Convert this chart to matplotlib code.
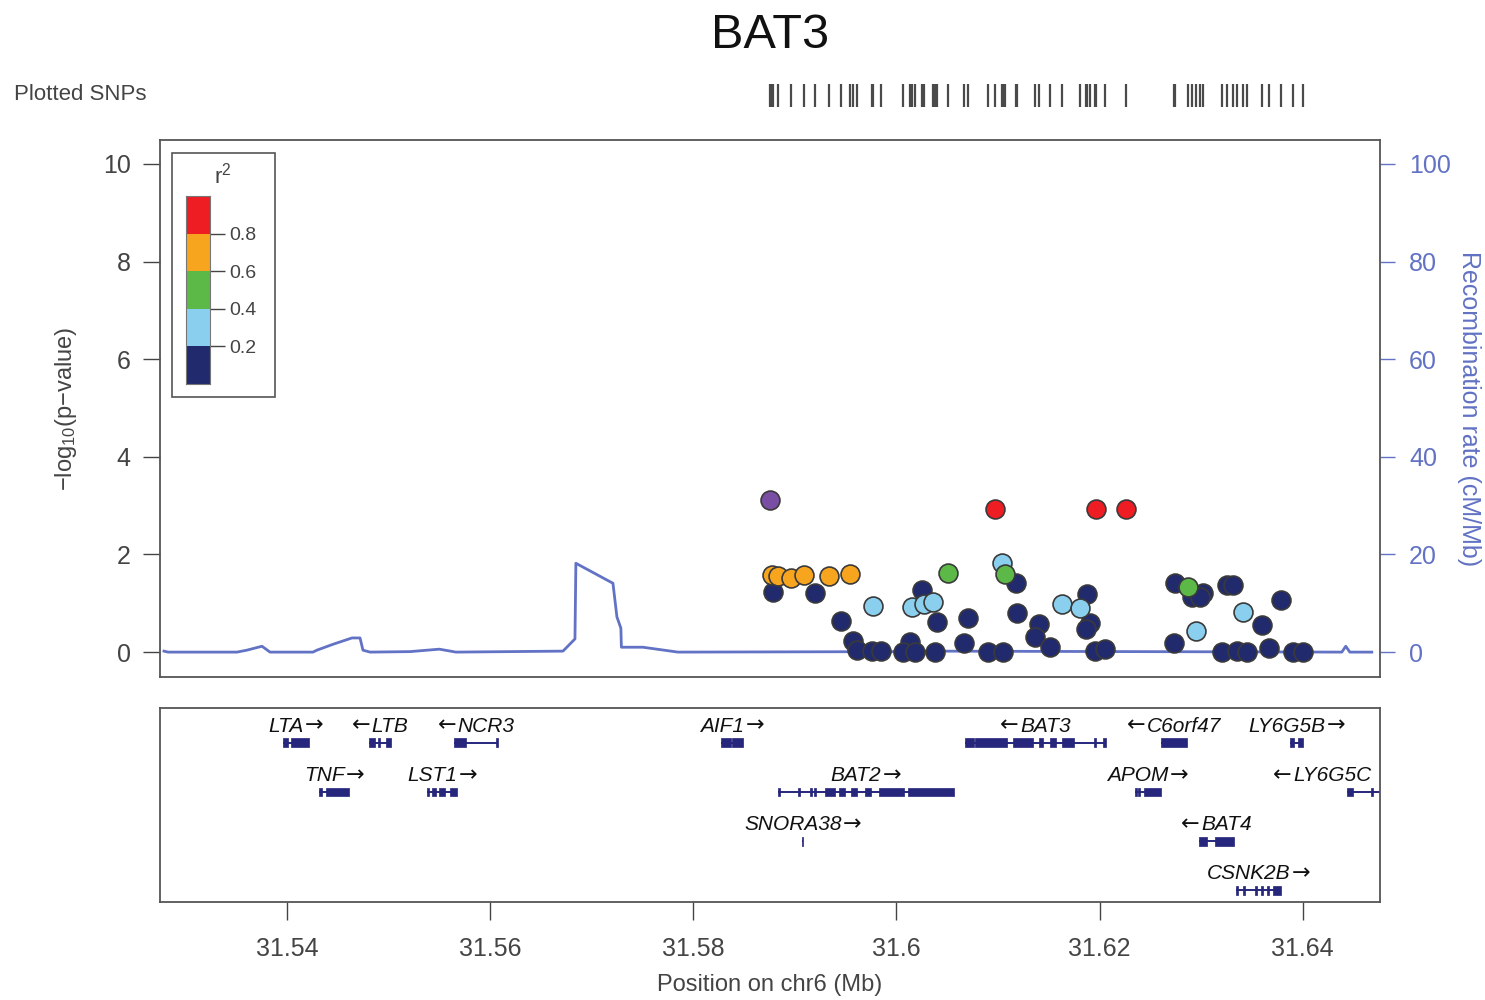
import matplotlib
matplotlib.use('Agg')
import matplotlib.pyplot as plt
from matplotlib.patches import Rectangle
from matplotlib.offsetbox import TextArea, HPacker, AnnotationBbox

plt.rcParams['font.family'] = ['Liberation Sans', 'DejaVu Sans']
plt.rcParams['mathtext.fontset'] = 'custom'
plt.rcParams['mathtext.rm'] = 'Liberation Sans'
plt.rcParams['mathtext.it'] = 'Liberation Sans:italic'

TEXT = '#444444'
FRAME = '#555555'
RECOMB = '#6272c4'
GENE = '#26267c'

lead_snp = 'rs2736176'
region_gene = 'BAT3'

# SNPs: position (Mb), -log10(p), r^2 with the lead SNP (first entry is the lead)
snp_pos = [31.58754, 31.60969, 31.61963, 31.62258, 31.58774, 31.58833, 31.58961, 31.59089,
           31.59335, 31.59541, 31.58783, 31.59197, 31.59768, 31.59453, 31.59571, 31.59610,
           31.59758, 31.59846, 31.60250, 31.60152, 31.60270, 31.60358, 31.60398, 31.60132,
           31.60063, 31.60181, 31.60378, 31.60506, 31.60703, 31.60663, 31.60900, 31.61047,
           31.61037, 31.61067, 31.61175, 31.61185, 31.61402, 31.61362, 31.61510, 31.61628,
           31.61805, 31.61874, 31.61904, 31.61864, 31.61953, 31.62051, 31.62740, 31.62868,
           31.63016, 31.62907, 31.62986, 31.63252, 31.63311, 31.63409, 31.62947, 31.62730,
           31.63783, 31.63596, 31.63665, 31.63203, 31.63350, 31.63449, 31.63902, 31.64000]
snp_logp = [3.11, 2.93, 2.93, 2.93, 1.58, 1.56, 1.52, 1.58,
            1.56, 1.60, 1.23, 1.21, 0.94, 0.64, 0.23, 0.04,
            0.02, 0.02, 1.27, 0.92, 0.98, 1.02, 0.61, 0.20,
            0.00, 0.00, 0.00, 1.62, 0.70, 0.18, 0.00, 0.00,
            1.82, 1.60, 1.41, 0.80, 0.57, 0.31, 0.10, 0.98,
            0.90, 1.19, 0.59, 0.47, 0.02, 0.06, 1.41, 1.33,
            1.21, 1.13, 1.13, 1.37, 1.37, 0.82, 0.43, 0.18,
            1.07, 0.55, 0.08, 0.00, 0.02, 0.00, 0.00, 0.00]
snp_r2 = [1.0, 0.9, 0.9, 0.9, 0.7, 0.7, 0.7, 0.7,
          0.7, 0.7, 0.1, 0.1, 0.3, 0.1, 0.1, 0.1,
          0.1, 0.1, 0.1, 0.3, 0.3, 0.3, 0.1, 0.1,
          0.1, 0.1, 0.1, 0.5, 0.1, 0.1, 0.1, 0.1,
          0.3, 0.5, 0.1, 0.1, 0.1, 0.1, 0.1, 0.3,
          0.3, 0.1, 0.1, 0.1, 0.1, 0.1, 0.1, 0.5,
          0.1, 0.1, 0.1, 0.1, 0.1, 0.3, 0.3, 0.1,
          0.1, 0.1, 0.1, 0.1, 0.1, 0.1, 0.1, 0.1]

# recombination rate (cM/Mb)
recomb_pos = [31.52789, 31.52829, 31.53508, 31.53606, 31.53754, 31.53833, 31.54256, 31.54295,
              31.54453, 31.54640, 31.54719, 31.54748, 31.54817, 31.55211, 31.55500, 31.55663,
              31.56717, 31.56835, 31.56844, 31.57209, 31.57248, 31.57287, 31.57292, 31.57504,
              31.57848, 31.60033, 31.60329, 31.64384, 31.64423, 31.64463, 31.64679]
recomb_rate = [0.2, 0.0, 0.0, 0.4, 1.2, 0.0, 0.0, 0.4,
               1.6, 2.9, 2.9, 0.4, 0.0, 0.1, 0.6, 0.0,
               0.2, 2.7, 18.2, 14.1, 7.2, 4.9, 1.0, 1.0,
               0.0, 0.1, 0.2, 0.0, 1.2, 0.0, 0.0]

# r^2 bins for colouring
r2_edges = [0.0, 0.2, 0.4, 0.6, 0.8, 1.0]
r2_colors = ['#222a6e', '#8bcfee', '#5cb947', '#f7a51e', '#ee1d23']
lead_color = '#7a4ea3'

# genes: name, strand, row, tx start, tx end, exons
genes = [
    ('LTA', '+', 0, 31.53961, 31.54217, [(31.53961, 31.54010), (31.54039, 31.54217)]),
    ('LTB', '-', 0, 31.54807, 31.55024, [(31.54807, 31.54866), (31.54896, 31.54916), (31.54974, 31.55024)]),
    ('NCR3', '-', 0, 31.55644, 31.56077, [(31.55644, 31.55762), (31.56057, 31.56077)]),
    ('AIF1', '+', 0, 31.58272, 31.58488, [(31.58272, 31.58370), (31.58385, 31.58488)]),
    ('BAT3', '-', 0, 31.60674, 31.62061, [(31.60674, 31.60760), (31.60775, 31.61087), (31.61146, 31.61343),
                                          (31.61402, 31.61441), (31.61510, 31.61569), (31.61628, 31.61746),
                                          (31.61943, 31.61963), (31.62030, 31.62061)]),
    ('C6orf47', '-', 0, 31.62603, 31.62859, [(31.62603, 31.62859)]),
    ('LY6G5B', '+', 0, 31.63873, 31.64003, [(31.63873, 31.63912), (31.63951, 31.64003)]),
    ('TNF', '+', 1, 31.54315, 31.54610, [(31.54315, 31.54340), (31.54384, 31.54610)]),
    ('LST1', '+', 1, 31.55378, 31.55673, [(31.55378, 31.55400), (31.55430, 31.55470), (31.55500, 31.55560),
                                          (31.55600, 31.55673)]),
    ('BAT2', '+', 1, 31.58833, 31.60565, [(31.58833, 31.58853), (31.59035, 31.59055), (31.59148, 31.59168),
                                          (31.59187, 31.59207), (31.59296, 31.59394), (31.59433, 31.59492),
                                          (31.59551, 31.59610), (31.59689, 31.59748), (31.59827, 31.60073),
                                          (31.60112, 31.60565)]),
    ('APOM', '+', 1, 31.62347, 31.62603, [(31.62347, 31.62367), (31.62377, 31.62397), (31.62436, 31.62603)]),
    ('LY6G5C', '-', 1, 31.64433, 31.65200, [(31.64433, 31.64492), (31.64669, 31.64689)]),
    ('SNORA38', '+', 2, 31.59074, 31.59084, [(31.59074, 31.59084)]),
    ('BAT4', '-', 2, 31.62977, 31.63321, [(31.62977, 31.63056), (31.63134, 31.63321)]),
    ('CSNK2B', '+', 3, 31.63341, 31.63783, [(31.63341, 31.63360), (31.63410, 31.63430), (31.63527, 31.63547),
                                            (31.63586, 31.63606), (31.63646, 31.63666), (31.63705, 31.63783)]),
]

xticks = [31.54, 31.56, 31.58, 31.60, 31.62, 31.64]
xmin, xmax = 31.5275, 31.6476
ymin, ymax = -0.51, 10.49

W, H = 1485, 1000
fig = plt.figure(figsize=(W / 100, H / 100), dpi=100)


def box(l, t, r, b):
    # pixel box -> figure fraction [left, bottom, width, height]
    return [l / W, 1 - b / H, (r - l) / W, (b - t) / H]


ax = fig.add_axes(box(160, 140, 1380, 677))
ax_gene = fig.add_axes(box(160, 708, 1380, 902))
ax_rug = fig.add_axes(box(160, 84, 1380, 107))


def r2_color(r2, lead):
    if lead:
        return lead_color
    for lo, hi, c in zip(r2_edges[:-1], r2_edges[1:], r2_colors):
        if r2 < hi:
            return c
    return r2_colors[-1]


# recombination rate on a twin axis, drawn underneath the SNPs
ax2 = ax.twinx()
ax2.plot(recomb_pos, recomb_rate, color=RECOMB, lw=2.0, zorder=1)
ax2.set_ylim(ymin * 10, ymax * 10)
ax2.set_yticks([0, 20, 40, 60, 80, 100])
ax2.tick_params(axis='y', colors=RECOMB, labelsize=18, length=11, width=1, pad=10)
ax2.set_ylabel('Recombination rate (cM/Mb)', color=RECOMB, fontsize=18, rotation=270, va='bottom')
ax2.yaxis.set_label_coords(1.063, 0.5)
for s in ax2.spines.values():
    s.set_visible(False)

ax.set_zorder(ax2.get_zorder() + 1)
ax.patch.set_visible(False)

order = sorted(range(len(snp_pos)), key=lambda i: (i == 0, snp_r2[i]))
for i in order:
    ax.scatter(snp_pos[i], snp_logp[i], s=185, color=r2_color(snp_r2[i], i == 0),
               edgecolor='#3a3a3a', linewidth=1.2, zorder=3)

ax.set_xlim(xmin, xmax)
ax.set_ylim(ymin, ymax)
ax.set_xticks([])
ax.set_yticks([0, 2, 4, 6, 8, 10])
ax.tick_params(axis='y', colors=TEXT, labelsize=18, length=12, width=1, pad=9)
for s in ax.spines.values():
    s.set_color(FRAME)
    s.set_linewidth(1.3)
ax.set_ylabel(r'$-$log$_{10}$(p$-$value)', color=TEXT, fontsize=17)
ax.yaxis.set_label_coords(-0.066, 0.5)
ax.text(0.5, 9.71, lead_snp, ha='center', va='center', fontsize=17, color='#222222')

# r^2 legend
ax.add_patch(Rectangle((12 / 1220, 280 / 537), 103 / 1220, 244 / 537, transform=ax.transAxes,
                       fill=False, edgecolor=FRAME, lw=1.2, zorder=4))
ax_leg = fig.add_axes(box(186, 196, 210, 384))
for lo, hi, c in zip(r2_edges[:-1], r2_edges[1:], r2_colors):
    ax_leg.bar(0.5, hi - lo, bottom=lo, width=1, color=c, edgecolor='none')
ax_leg.set_xlim(0, 1)
ax_leg.set_ylim(0, 1)
ax_leg.set_xticks([])
ax_leg.yaxis.tick_right()
ax_leg.set_yticks([0.2, 0.4, 0.6, 0.8])
ax_leg.set_yticklabels(['0.2', '0.4', '0.6', '0.8'])
ax_leg.tick_params(axis='y', colors=TEXT, labelsize=14, length=11, width=1, pad=3)
for s in ax_leg.spines.values():
    s.set_color('#777777')
    s.set_linewidth(0.8)
ax_leg.text(1.55, 1.11, 'r$^2$', ha='center', va='center', fontsize=16, color=TEXT,
            transform=ax_leg.transAxes)

# rug of plotted SNP positions
ax_rug.vlines(snp_pos, 0, 1, color='#4a4a4a', lw=1.6)
ax_rug.set_xlim(xmin, xmax)
ax_rug.set_ylim(0, 1)
ax_rug.axis('off')
fig.text(14 / W, 1 - 95 / H, 'Plotted SNPs', ha='left', va='center', fontsize=16, color=TEXT)

fig.text(770 / W, 1 - 35 / H, region_gene, ha='center', va='center', fontsize=35, color='#111111')

# gene track
exon_h = 0.18
name_props = dict(fontsize=15, style='italic', color='#111111')
arrow_props = dict(fontsize=16, family='DejaVu Sans', color='#111111')
for name, strand, row, start, end, exons in genes:
    y = -row
    ax_gene.plot([start, end], [y, y], color=GENE, lw=1.4, solid_capstyle='butt')
    ax_gene.broken_barh([(a, b - a) for a, b in exons], (y - exon_h / 2, exon_h),
                        facecolor=GENE, edgecolor=GENE, lw=0.5)
    parts = [TextArea(name, textprops=name_props), TextArea('\u2192', textprops=arrow_props)]
    if strand == '-':
        parts = [TextArea('\u2190', textprops=arrow_props), TextArea(name, textprops=name_props)]
    label = HPacker(children=parts, align='baseline', pad=0, sep=1)
    mid = (start + end) / 2
    # keep labels of genes running off the edge inside the panel
    if mid > xmax - 0.004:
        xy, align = (xmax - 0.00085, y + 0.35), (1.0, 0.5)
    else:
        xy, align = (mid, y + 0.35), (0.5, 0.5)
    ax_gene.add_artist(AnnotationBbox(label, xy, xycoords='data', frameon=False,
                                      box_alignment=align, pad=0))

ax_gene.set_xlim(xmin, xmax)
ax_gene.set_ylim(-3.24, 0.71)
ax_gene.set_yticks([])
ax_gene.set_xticks(xticks)
ax_gene.set_xticklabels([f'{v:g}' for v in xticks])
ax_gene.tick_params(axis='x', colors=TEXT, labelsize=18, length=13, width=1, pad=12)
for s in ax_gene.spines.values():
    s.set_color(FRAME)
    s.set_linewidth(1.3)
ax_gene.set_xlabel('Position on chr6 (Mb)', color=TEXT, fontsize=17)
ax_gene.xaxis.set_label_coords(0.5, -0.37)

fig.savefig('out.png', dpi=100)
